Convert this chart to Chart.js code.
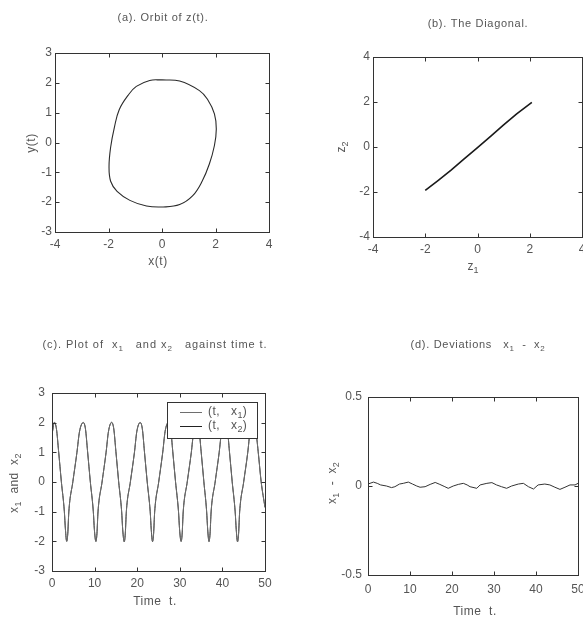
<!DOCTYPE html>
<html>
<head>
<meta charset="utf-8">
<script src="https://cdn.jsdelivr.net/npm/chart.js@4.4.0/dist/chart.umd.min.js"></script>
<style>
html, body { margin: 0; padding: 0; background: #fff; width: 583px; height: 621px; overflow: hidden; position: relative; }
canvas { position: absolute; }
</style>
</head>
<body>
<canvas id="panelA" width="291" height="300" style="left:0;top:0;width:291px;height:300px"></canvas>
<canvas id="panelB" width="320" height="300" style="left:291px;top:0;width:320px;height:300px"></canvas>
<canvas id="panelC" width="291" height="321" style="left:0;top:300px;width:291px;height:321px"></canvas>
<canvas id="panelD" width="320" height="321" style="left:291px;top:300px;width:320px;height:321px"></canvas>
<script>
// (a) orbit of z(t) = (x(t), y(t))
const orbitX = [0.0, 0.66, 1.4, 1.7, 1.96, 2.03, 1.96, 1.77, 1.5, 1.15, 0.66, 0.04, -0.58, -1.2, -1.68, -1.92, -1.98, -1.92, -1.78, -1.6, -1.27, -0.96, -0.46, 0.0];
const orbitY = [2.1, 2.06, 1.74, 1.45, 0.96, 0.45, -0.1, -0.72, -1.3, -1.78, -2.08, -2.16, -2.13, -1.94, -1.64, -1.3, -0.8, -0.16, 0.51, 1.1, 1.58, 1.88, 2.08, 2.1];
const orbitXTicks = [-4, -2, 0, 2, 4];
const orbitYTicks = [-3, -2, -1, 0, 1, 2, 3];

// (b) z1 against z2
const diagZ1 = [-2.0, -1.5, -1.0, -0.5, 0.0, 0.5, 1.0, 1.5, 2.08];
const diagZ2 = [-1.93, -1.48, -1.02, -0.52, -0.03, 0.47, 0.98, 1.47, 1.98];
const diagTicks = [-4, -2, 0, 2, 4];

// (c) x1 and x2 against time
const timeT = [0, 0.55, 1.05, 1.55, 2.2, 2.9, 3.15, 3.45, 3.7, 3.95, 4.9, 5.85, 6.45,
  7.35, 7.85, 8.35, 9.0, 9.7, 9.95, 10.3, 10.55, 10.8, 11.75, 12.7, 13.25,
  14.0, 14.5, 15.0, 15.65, 16.35, 16.6, 16.95, 17.2, 17.45, 18.4, 19.35, 19.9,
  20.7, 21.2, 21.7, 22.35, 23.05, 23.3, 23.6, 23.85, 24.1, 25.05, 26.0, 26.55,
  27.35, 27.85, 28.35, 29.0, 29.7, 29.95, 30.3, 30.55, 30.8, 31.75, 32.7, 33.25,
  34.0, 34.5, 35.0, 35.65, 36.3, 36.55, 36.85, 37.1, 37.35, 38.3, 39.25, 39.8,
  40.65, 41.15, 41.65, 42.3, 43.0, 43.25, 43.55, 43.8, 44.05, 45.0, 45.95, 46.5,
  47.3, 47.8, 48.4, 49.1, 50.0];
const seriesX1 = [1.6, 2.02, 1.79, 1.03, 0.0, -1.0, -1.6, -2.0, -1.74, -1.0, 0.02, 1.0, 1.7,
  2.01, 1.8, 1.04, 0.01, -0.99, -1.61, -2.01, -1.75, -1.0, 0.0, 1.01, 1.69,
  2.02, 1.8, 1.02, 0.0, -1.0, -1.6, -2.02, -1.76, -1.01, 0.0, 1.0, 1.7,
  2.01, 1.79, 1.03, 0.01, -1.0, -1.6, -2.0, -1.75, -1.0, 0.01, 1.0, 1.71,
  2.02, 1.8, 1.03, 0.0, -1.01, -1.61, -2.01, -1.75, -1.0, 0.0, 1.0, 1.7,
  2.01, 1.8, 1.03, 0.0, -1.0, -1.6, -2.0, -1.74, -1.0, 0.01, 1.01, 1.7,
  2.02, 1.8, 1.04, 0.0, -1.0, -1.61, -2.02, -1.75, -1.0, 0.0, 1.0, 1.7,
  2.02, 1.8, 1.03, 0.0, -0.85];
const seriesX2 = [1.59, 2.0, 1.78, 1.04, 0.01, -0.99, -1.59, -2.0, -1.75, -1.01, 0.01, 0.99, 1.69,
  2.0, 1.79, 1.03, 0.0, -1.0, -1.6, -2.0, -1.74, -1.01, 0.0, 1.0, 1.7,
  2.0, 1.79, 1.03, 0.01, -0.99, -1.61, -2.01, -1.75, -1.0, 0.01, 0.99, 1.69,
  2.0, 1.8, 1.02, 0.0, -0.99, -1.61, -2.01, -1.74, -1.01, 0.0, 1.01, 1.7,
  2.0, 1.79, 1.02, 0.01, -1.0, -1.6, -2.0, -1.76, -1.01, 0.01, 0.99, 1.69,
  2.0, 1.79, 1.04, 0.01, -0.99, -1.61, -2.01, -1.75, -1.01, 0.0, 1.0, 1.69,
  2.01, 1.79, 1.03, 0.01, -1.01, -1.6, -2.01, -1.74, -1.01, 0.01, 0.99, 1.71,
  2.0, 1.79, 1.02, 0.01, -0.86];
const timeTicks = [0, 10, 20, 30, 40, 50];
const seriesTicks = [-3, -2, -1, 0, 1, 2, 3];
const seriesNames = ['(t,   x_1)', '(t,   x_2)'];

// (d) deviation x1 - x2 against time
const devT = [0, 1.3, 2.2, 3.0, 4.4, 5.6, 6.4, 7.5, 8.4, 9.6, 10.6, 11.6, 12.4, 13.6, 14.8,
  16.0, 17.1, 18.3, 19.1, 20.3, 21.5, 22.7, 23.6, 24.3, 25.9, 26.7, 28.3, 29.5, 30.6, 31.8,
  33.0, 34.2, 35.8, 37.0, 38.2, 39.4, 40.5, 42.1, 43.3, 44.5, 45.7, 46.9, 48.1, 49.3, 50];
const devValues = [0.011, 0.022, 0.015, 0.006, 0, -0.009, -0.004, 0.011, 0.015, 0.022, 0.011, 0, -0.007, -0.004, 0.009,
  0.02, 0.009, -0.004, -0.013, 0, 0.009, 0.015, 0.006, -0.004, -0.013, 0.006, 0.015, 0.019, 0.006, -0.004,
  -0.013, 0, 0.011, 0.015, -0.004, -0.017, 0.006, 0.011, 0.006, -0.007, -0.019, -0.007, 0.006, 0.006, 0.015];
const devTicks = [-0.5, 0, 0.5];

const TEXT = '#555';
const INK = '#333';
const FONT = "'Liberation Sans', Arial, sans-serif";

// splits "_n" subscripts out of a label into measured runs
function richRuns(ctx, str, size, spacing) {
  const parts = str.split(/(_\d)/).filter(s => s.length);
  return parts.map(p => {
    const sub = p[0] === '_';
    const s = sub ? p.slice(1) : p;
    const fs = sub ? Math.round(size * 0.75) : size;
    ctx.font = fs + 'px ' + FONT;
    ctx.letterSpacing = spacing + 'px';
    return { s, sub, fs, w: ctx.measureText(s).width };
  });
}

// draws a label with subscripts; align 'center' or 'left'
function drawRich(ctx, str, x, y, size, opt) {
  const o = opt || {};
  const spacing = o.spacing || 0;
  ctx.save();
  const runs = richRuns(ctx, str, size, spacing);
  const w = runs.reduce((s, r) => s + r.w, 0);
  ctx.translate(x, y);
  if (o.rot) ctx.rotate(-Math.PI / 2);
  ctx.fillStyle = TEXT;
  ctx.textBaseline = 'middle';
  ctx.textAlign = 'left';
  let cx = o.align === 'left' ? 0 : -w / 2;
  runs.forEach(r => {
    ctx.font = r.fs + 'px ' + FONT;
    ctx.letterSpacing = spacing + 'px';
    ctx.fillText(r.s, cx, r.sub ? size * 0.3 : 0);
    cx += r.w;
  });
  ctx.restore();
}

// boxed axes with inward ticks on all four sides, titles and an inset legend
const framePlugin = {
  id: 'frame',
  afterDraw(chart, args, opts) {
    const { ctx, chartArea: a, scales } = chart;
    const L = Math.round(a.left) + 0.5, R = Math.round(a.right) + 0.5;
    const T = Math.round(a.top) + 0.5, B = Math.round(a.bottom) + 0.5;
    const len = 4;
    ctx.save();
    ctx.strokeStyle = INK;
    ctx.lineWidth = 1;
    ctx.beginPath();
    scales.x.ticks.forEach(t => {
      const p = Math.round(scales.x.getPixelForValue(t.value)) + 0.5;
      ctx.moveTo(p, B); ctx.lineTo(p, B - len);
      ctx.moveTo(p, T); ctx.lineTo(p, T + len);
    });
    scales.y.ticks.forEach(t => {
      const p = Math.round(scales.y.getPixelForValue(t.value)) + 0.5;
      ctx.moveTo(L, p); ctx.lineTo(L + len, p);
      ctx.moveTo(R, p); ctx.lineTo(R - len, p);
    });
    ctx.stroke();
    ctx.strokeRect(L, T, R - L, B - T);

    if (opts.legend) {
      const g = opts.legend;
      ctx.fillStyle = '#fff';
      ctx.fillRect(g.x, g.y, g.w, g.h);
      ctx.strokeStyle = INK;
      ctx.strokeRect(g.x + 0.5, g.y + 0.5, g.w, g.h);
      chart.data.datasets.forEach((ds, i) => {
        const ry = g.y + g.rowTop + i * g.rowGap;
        ctx.strokeStyle = ds.borderColor;
        ctx.beginPath();
        ctx.moveTo(g.x + 13, Math.round(ry) + 0.5);
        ctx.lineTo(g.x + 35, Math.round(ry) + 0.5);
        ctx.stroke();
        drawRich(ctx, ds.label, g.x + 41, ry, 12, { align: 'left', spacing: 0.4 });
      });
    }
    ctx.restore();
    (opts.texts || []).forEach(t => drawRich(ctx, t.s, t.x, t.y, t.size, t));
  }
};

function fixedTicks(values) {
  return scale => { scale.ticks = values.map(v => ({ value: v })); };
}

function axes(xMin, xMax, xTicks, yMin, yMax, yTicks, yPad, xPad) {
  const tickFont = { family: FONT, size: 12 };
  return {
    x: {
      type: 'linear', min: xMin, max: xMax,
      grid: { display: false, drawTicks: false }, border: { display: false },
      afterBuildTicks: fixedTicks(xTicks),
      afterFit: s => { s.height = 22; },
      ticks: { color: TEXT, font: tickFont, padding: xPad, maxRotation: 0, autoSkip: false }
    },
    y: {
      type: 'linear', min: yMin, max: yMax,
      grid: { display: false, drawTicks: false }, border: { display: false },
      afterBuildTicks: fixedTicks(yTicks),
      afterFit: s => { s.width = 30; },
      ticks: { color: TEXT, font: tickFont, padding: yPad, autoSkip: false }
    }
  };
}

function basePlugins(extra) {
  return { legend: { display: false }, tooltip: { enabled: false }, frame: extra };
}

function pts(xs, ys) { return xs.map((v, i) => ({ x: v, y: ys[i] })); }

Chart.defaults.animation = false;
Chart.defaults.responsive = false;
Chart.defaults.devicePixelRatio = 1;

// (a)
new Chart(document.getElementById('panelA'), {
  type: 'scatter',
  data: { datasets: [{ data: pts(orbitX, orbitY), showLine: true, borderColor: '#2a2a2a', borderWidth: 1.1, pointRadius: 0, tension: 0.4 }] },
  options: {
    layout: { padding: { left: 25, top: 53, right: 22, bottom: 46 } },
    scales: axes(-4, 4, orbitXTicks, -3, 3, orbitYTicks, 3, 5),
    plugins: basePlugins({ texts: [
      { s: '(a). Orbit of z(t).', x: 163, y: 18, size: 11, spacing: 0.7 },
      { s: 'x(t)', x: 158, y: 262, size: 12, spacing: 0.5 },
      { s: 'y(t)', x: 32, y: 143, size: 12, spacing: 0.5, rot: true }
    ] })
  },
  plugins: [framePlugin]
});

// (b)
new Chart(document.getElementById('panelB'), {
  type: 'scatter',
  data: { datasets: [{ data: pts(diagZ1, diagZ2), showLine: true, borderColor: '#1a1a1a', borderWidth: 1.6, pointRadius: 0, tension: 0 }] },
  options: {
    layout: { padding: { left: 52, top: 57, right: 29, bottom: 41 } },
    scales: axes(-4, 4, diagTicks, -4, 4, diagTicks, 3, 5),
    plugins: basePlugins({ texts: [
      { s: '(b). The Diagonal.', x: 187, y: 24, size: 11, spacing: 0.7 },
      { s: 'z_1', x: 182, y: 267, size: 12 },
      { s: 'z_2', x: 51, y: 147, size: 12, rot: true }
    ] })
  },
  plugins: [framePlugin]
});

// (c)
new Chart(document.getElementById('panelC'), {
  type: 'scatter',
  data: { datasets: [
    { label: seriesNames[0], data: pts(timeT, seriesX1), showLine: true, borderColor: '#6e6e6e', borderWidth: 1, pointRadius: 0, cubicInterpolationMode: 'monotone' },
    { label: seriesNames[1], data: pts(timeT, seriesX2), showLine: true, borderColor: '#222', borderWidth: 1, pointRadius: 0, cubicInterpolationMode: 'monotone' }
  ] },
  options: {
    layout: { padding: { left: 22, top: 93, right: 26, bottom: 28 } },
    scales: axes(0, 50, timeTicks, -3, 3, seriesTicks, 7, 5),
    plugins: basePlugins({
      texts: [
        { s: '(c). Plot of  x_1   and x_2   against time t.', x: 155, y: 45, size: 11, spacing: 0.95 },
        { s: 'Time  t.', x: 155, y: 302, size: 12, spacing: 0.5 },
        { s: 'x_1  and  x_2', x: 15, y: 183, size: 12, spacing: 0.4, rot: true }
      ],
      legend: { x: 167, y: 102, w: 90, h: 36, rowTop: 10, rowGap: 14 }
    })
  },
  plugins: [framePlugin]
});

// (d)
new Chart(document.getElementById('panelD'), {
  type: 'scatter',
  data: { datasets: [{ data: pts(devT, devValues), showLine: true, borderColor: '#333', borderWidth: 1, pointRadius: 0, tension: 0 }] },
  options: {
    layout: { padding: { left: 47, top: 97, right: 33, bottom: 24 } },
    scales: axes(0, 50, timeTicks, -0.5, 0.5, devTicks, 6, 7),
    plugins: basePlugins({ texts: [
      { s: '(d). Deviations   x_1  -  x_2', x: 187, y: 45, size: 11, spacing: 0.7 },
      { s: 'Time  t.', x: 184, y: 312, size: 12, spacing: 0.5 },
      { s: 'x_1  -  x_2', x: 42, y: 183, size: 12, spacing: 0.3, rot: true }
    ] })
  },
  plugins: [framePlugin]
});
</script>
</body>
</html>
